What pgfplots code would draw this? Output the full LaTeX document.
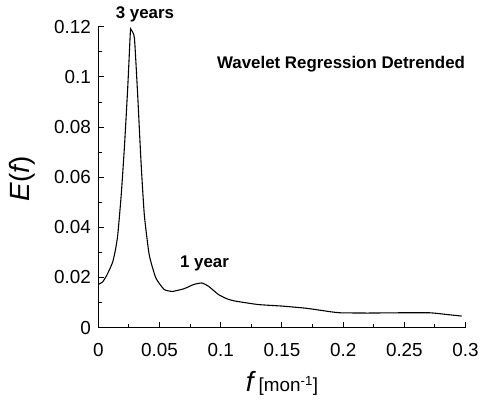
\documentclass[border=0pt]{standalone}
\usepackage{pgfplots}
\pgfplotsset{compat=1.18}
\usepackage{fontspec}
\setmainfont{Liberation Sans}

\begin{document}
\begin{tikzpicture}
  \begin{axis}[
    scale only axis,
    width=370pt, height=303pt,
    xmin=0, xmax=0.3, ymin=0, ymax=0.12,
    axis lines=left,
    axis line style={-, line width=1.3pt},
    clip=false,
    xtick={0,0.05,...,0.3},
    ytick={0,0.02,...,0.12},
    minor x tick num=1,
    minor y tick num=1,
    tick align=inside,
    major tick length=6pt,
    minor tick length=4pt,
    tick style={line width=1pt, black},
    /pgf/number format/assume math mode=true,
    /pgf/number format/fixed,
    /pgf/number format/precision=2,
    ticklabel style={font=\fontsize{19}{19}\selectfont},
    xticklabel style={yshift=-12pt},
    yticklabel style={xshift=-4pt},
    xlabel={\fontsize{28}{28}\selectfont\itshape f\fontsize{19}{19}\selectfont\upshape\ [mon\textsuperscript{-1}]},
    ylabel={\fontsize{28}{28}\selectfont\itshape E\upshape(\itshape f\upshape)},
    every axis x label/.style={at={(axis description cs:0.5,-0.185)}, anchor=center},
    every axis y label/.style={at={(axis description cs:-0.208,0.495)}, rotate=90, anchor=center},
  ]
  \addplot[black, line width=1.1pt, smooth, tension=0.3] coordinates {
    (0,0.0172) (0.0035,0.0182) (0.0065,0.0205) (0.0095,0.0235) (0.0119,0.0264)
    (0.0140,0.0310) (0.0159,0.0370) (0.0187,0.0528) (0.0214,0.0726)
    (0.0241,0.0964) (0.0262,0.1181) (0.0268,0.1188) (0.0295,0.1155)
    (0.0322,0.0924) (0.0349,0.0660) (0.0376,0.0449) (0.0416,0.0290)
    (0.0470,0.0198) (0.0538,0.0152) (0.0603,0.0144) (0.0616,0.0145)
    (0.070,0.0155) (0.078,0.0172) (0.0846,0.0178) (0.090,0.0165)
    (0.0981,0.0132) (0.105,0.0115) (0.1116,0.0106) (0.1305,0.0092)
    (0.1495,0.0086) (0.170,0.0077) (0.190,0.0063) (0.198,0.0059)
    (0.220,0.0058) (0.244,0.0059) (0.271,0.0059) (0.285,0.0052)
    (0.2968,0.0046)
  };
  \node[font=\fontsize{17}{17}\selectfont\bfseries] at (axis cs:0.0381,0.1248) {3 years};
  \node[font=\fontsize{17}{17}\selectfont\bfseries] at (axis cs:0.0868,0.0257) {1 year};
  \node[font=\fontsize{17}{17}\selectfont\bfseries] at (axis cs:0.1983,0.1050) {Wavelet Regression Detrended};
  \coordinate (bl) at (axis cs:-0.0803,-0.0293);
  \coordinate (tr) at (axis cs:0.3105,0.1307);
  \end{axis}
  \path (bl) rectangle (tr);
\end{tikzpicture}
\end{document}
